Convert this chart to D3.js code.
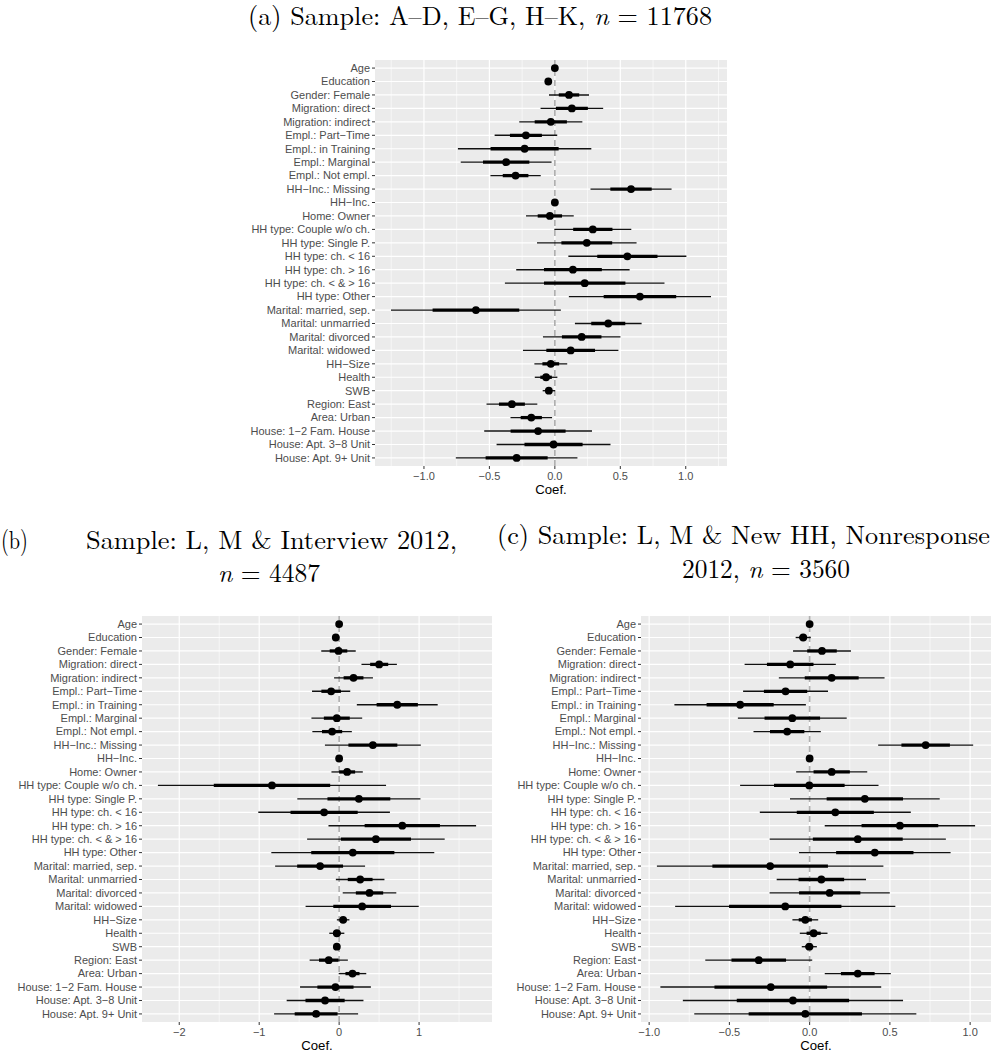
<!DOCTYPE html>
<html>
<head>
<meta charset="utf-8">
<script src="https://cdn.jsdelivr.net/npm/d3@7"></script>
<style>
  body { margin: 0; background: #fff; }
</style>
</head>
<body>
<div id="my_dataviz"></div>
<script>

// row labels, shared by all three panels (top to bottom)
var labels = ["Age", "Education", "Gender: Female", "Migration: direct", "Migration: indirect",
  "Empl.: Part\u2212Time", "Empl.: in Training", "Empl.: Marginal", "Empl.: Not empl.",
  "HH\u2212Inc.: Missing", "HH\u2212Inc.", "Home: Owner", "HH type: Couple w/o ch.",
  "HH type: Single P.", "HH type: ch. < 16", "HH type: ch. > 16", "HH type: ch. < & > 16",
  "HH type: Other", "Marital: married, sep.", "Marital: unmarried", "Marital: divorced",
  "Marital: widowed", "HH\u2212Size", "Health", "SWB", "Region: East", "Area: Urban",
  "House: 1\u22122 Fam. House", "House: Apt. 3\u22128 Unit", "House: Apt. 9+ Unit"];

// (a) coefficients and standard errors
var estA = [0.0, -0.05, 0.108, 0.13, -0.031, -0.221, -0.231, -0.372, -0.3, 0.582, 0.0, -0.038, 0.29, 0.244,
  0.554, 0.138, 0.228, 0.65, -0.603, 0.408, 0.205, 0.121, -0.031, -0.067, -0.046, -0.328, -0.18, -0.128, -0.01, -0.292];
var seA = [0.004, 0.008, 0.078, 0.122, 0.123, 0.122, 0.26, 0.177, 0.098, 0.158, 0.003, 0.093, 0.15, 0.194,
  0.23, 0.221, 0.311, 0.277, 0.331, 0.13, 0.151, 0.186, 0.064, 0.044, 0.024, 0.099, 0.081, 0.21, 0.222, 0.237];

// (b)
var estB = [0.0, -0.042, -0.008, 0.501, 0.18, -0.1, 0.727, -0.029, -0.088, 0.422, 0.0, 0.1, -0.84, 0.247,
  -0.188, 0.79, 0.46, 0.171, -0.238, 0.263, 0.38, 0.288, 0.05, -0.029, -0.029, -0.13, 0.167, -0.046, -0.176, -0.288];
var seB = [0.004, 0.006, 0.11, 0.113, 0.124, 0.122, 0.258, 0.162, 0.126, 0.306, 0.004, 0.1, 0.728, 0.393,
  0.42, 0.471, 0.439, 0.52, 0.287, 0.155, 0.171, 0.361, 0.04, 0.048, 0.02, 0.122, 0.088, 0.226, 0.245, 0.268];

// (c)
var estC = [0.0, -0.04, 0.077, -0.121, 0.1375, -0.15, -0.433, -0.108, -0.14, 0.723, 0.0, 0.1375, -0.002, 0.344,
  0.16, 0.5625, 0.3, 0.406, -0.246, 0.073, 0.125, -0.152, -0.027, 0.025, -0.002, -0.317, 0.3, -0.242, -0.104, -0.027];
var seC = [0.004, 0.024, 0.092, 0.145, 0.168, 0.135, 0.209, 0.173, 0.107, 0.151, 0.003, 0.113, 0.22, 0.238,
  0.24, 0.239, 0.28, 0.241, 0.36, 0.142, 0.191, 0.35, 0.041, 0.044, 0.024, 0.17, 0.105, 0.351, 0.35, 0.353];

// x axis breaks
var ticksA = [-1, -0.5, 0, 0.5, 1];
var ticksB = [-2, -1, 0, 1];
var ticksC = [-1, -0.5, 0, 0.5, 1];

var svg = d3.select("#my_dataviz")
  .append("svg")
    .attr("width", 992)
    .attr("height", 1050)
    .style("font-family", "Liberation Sans, Arial, sans-serif");

var serif = "Latin Modern Roman, CMU Serif, Liberation Serif, serif";

function drawPanel(p) {
  var g = svg.append("g")
    .attr("transform", "translate(" + p.left + "," + p.top + ")");

  var rows = labels.map(function(l, i) {
    return {label: l, est: p.est[i], se: p.se[i]};
  });

  // range like ggplot: 95% interval ends, expanded by 5%
  var lo = d3.min(rows, function(d) { return d.est - 1.96 * d.se; }),
      hi = d3.max(rows, function(d) { return d.est + 1.96 * d.se; }),
      pad = (hi - lo) * 0.05;

  var x = d3.scaleLinear()
    .domain([lo - pad, hi + pad])
    .range([0, p.width]);

  var y = d3.scalePoint()
    .domain(labels)
    .range([0, p.height])
    .padding(0.6);

  // panel background
  g.append("rect")
    .attr("width", p.width)
    .attr("height", p.height)
    .style("fill", "#EBEBEB");

  // minor grid halfway between the breaks
  var step = p.ticks[1] - p.ticks[0];
  var minor = [p.ticks[0] - step / 2].concat(p.ticks.map(function(t) { return t + step / 2; }))
    .filter(function(v) { return v > x.domain()[0] && v < x.domain()[1]; });

  g.selectAll(".minor")
    .data(minor)
    .enter()
    .append("line")
      .attr("x1", function(d) { return x(d); })
      .attr("x2", function(d) { return x(d); })
      .attr("y1", 0)
      .attr("y2", p.height)
      .style("stroke", "#fff")
      .style("stroke-width", 0.6);

  g.selectAll(".vmajor")
    .data(p.ticks)
    .enter()
    .append("line")
      .attr("x1", function(d) { return x(d); })
      .attr("x2", function(d) { return x(d); })
      .attr("y1", 0)
      .attr("y2", p.height)
      .style("stroke", "#fff")
      .style("stroke-width", 1.2);

  g.selectAll(".hmajor")
    .data(labels)
    .enter()
    .append("line")
      .attr("x1", 0)
      .attr("x2", p.width)
      .attr("y1", function(d) { return y(d); })
      .attr("y2", function(d) { return y(d); })
      .style("stroke", "#fff")
      .style("stroke-width", 1.2);

  // dashed line at zero
  g.append("line")
    .attr("x1", x(0))
    .attr("x2", x(0))
    .attr("y1", 0)
    .attr("y2", p.height)
    .style("stroke", "#B0B0B0")
    .style("stroke-width", 1.7)
    .style("stroke-dasharray", "6,4");

  // 95% intervals
  g.selectAll(".ci95")
    .data(rows)
    .enter()
    .append("line")
      .attr("x1", function(d) { return x(d.est - 1.96 * d.se); })
      .attr("x2", function(d) { return x(d.est + 1.96 * d.se); })
      .attr("y1", function(d) { return y(d.label); })
      .attr("y2", function(d) { return y(d.label); })
      .style("stroke", "#111")
      .style("stroke-width", 1.35);

  // +- 1 s.e.
  g.selectAll(".ci68")
    .data(rows)
    .enter()
    .append("line")
      .attr("x1", function(d) { return x(d.est - d.se); })
      .attr("x2", function(d) { return x(d.est + d.se); })
      .attr("y1", function(d) { return y(d.label); })
      .attr("y2", function(d) { return y(d.label); })
      .style("stroke", "#000")
      .style("stroke-width", 3.3);

  g.selectAll(".dot")
    .data(rows)
    .enter()
    .append("circle")
      .attr("cx", function(d) { return x(d.est); })
      .attr("cy", function(d) { return y(d.label); })
      .attr("r", 3.9)
      .style("fill", "#000");

  // y axis: ticks + labels
  g.selectAll(".ytick")
    .data(labels)
    .enter()
    .append("line")
      .attr("x1", -3)
      .attr("x2", 0)
      .attr("y1", function(d) { return y(d); })
      .attr("y2", function(d) { return y(d); })
      .style("stroke", "#333")
      .style("stroke-width", 1);

  g.selectAll(".ylab")
    .data(labels)
    .enter()
    .append("text")
      .attr("x", -5)
      .attr("y", function(d) { return y(d); })
      .attr("dy", "0.35em")
      .attr("text-anchor", "end")
      .style("font-size", "11px")
      .style("fill", "#4D4D4D")
      .text(function(d) { return d; });

  // x axis: ticks + labels
  g.selectAll(".xtick")
    .data(p.ticks)
    .enter()
    .append("line")
      .attr("x1", function(d) { return x(d); })
      .attr("x2", function(d) { return x(d); })
      .attr("y1", p.height)
      .attr("y2", p.height + 3)
      .style("stroke", "#333")
      .style("stroke-width", 1);

  g.selectAll(".xlab")
    .data(p.ticks)
    .enter()
    .append("text")
      .attr("x", function(d) { return x(d); })
      .attr("y", p.height + 13.5)
      .attr("text-anchor", "middle")
      .style("font-size", "11px")
      .style("fill", "#4D4D4D")
      .text(function(d) { return p.fmt(d); });

  g.append("text")
    .attr("x", p.width / 2)
    .attr("y", p.height + 28)
    .attr("text-anchor", "middle")
    .style("font-size", "13.2px")
    .style("fill", "#000")
    .text("Coef.");
}

drawPanel({left: 375, top: 60, width: 352, height: 406, est: estA, se: seA, ticks: ticksA, fmt: d3.format(".1f")});
drawPanel({left: 142, top: 616, width: 350, height: 406, est: estB, se: seB, ticks: ticksB, fmt: d3.format("d")});
drawPanel({left: 641, top: 616, width: 350, height: 406, est: estC, se: seC, ticks: ticksC, fmt: d3.format(".1f")});

// captions (LaTeX style); parts: [text, italic]
function caption(x0, x1, yb, parts) {
  var t = svg.append("text")
    .attr("x", x0)
    .attr("y", yb)
    .attr("textLength", x1 - x0)
    .attr("lengthAdjust", "spacingAndGlyphs")
    .style("font-family", serif)
    .style("font-size", "26px")
    .style("fill", "#000");
  parts.forEach(function(pt) {
    t.append("tspan")
      .style("font-style", pt[1] ? "italic" : "normal")
      .text(pt[0]);
  });
}

caption(248, 712, 25, [["(a) Sample: A\u2013D, E\u2013G, H\u2013K, ", false], ["n", true], [" = 11768", false]]);
caption(1, 28, 549, [["(b)", false]]);
caption(86, 457, 549, [["Sample: L, M & Interview 2012,", false]]);
caption(218, 320, 582, [["n", true], [" = 4487", false]]);
caption(497, 990, 544, [["(c) Sample: L, M & New HH, Nonresponse", false]]);
caption(682, 850, 578, [["2012, ", false], ["n", true], [" = 3560", false]]);

</script>
</body>
</html>
